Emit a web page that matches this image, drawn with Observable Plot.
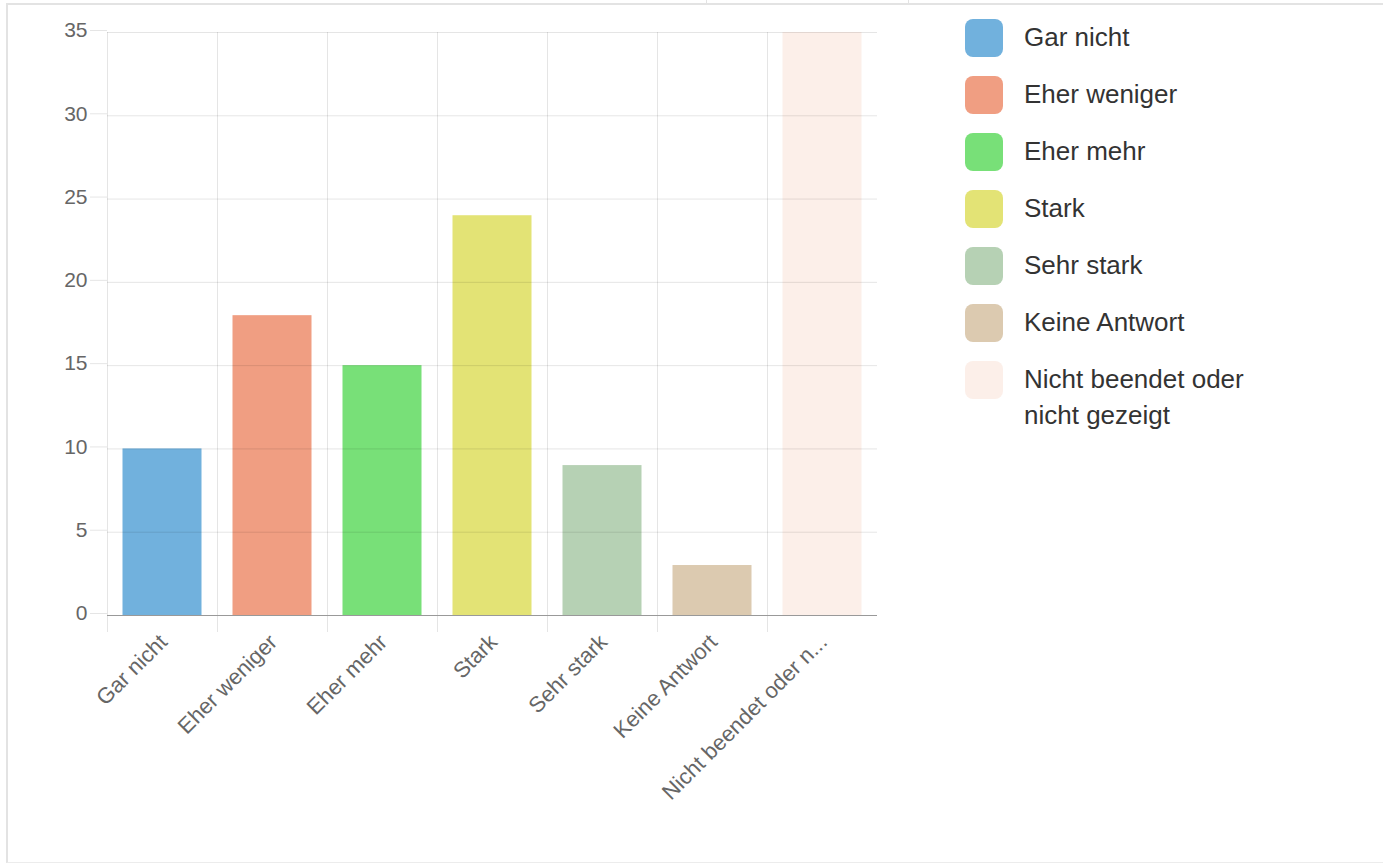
<!DOCTYPE html>
<html>
<head>
<meta charset="utf-8">
<script src="https://cdn.jsdelivr.net/npm/d3@7"></script>
<script src="https://cdn.jsdelivr.net/npm/@observablehq/plot@0.6"></script>
<style>
  html, body { margin: 0; padding: 0; background: #fff; }
  body { width: 1383px; height: 865px; position: relative; overflow: hidden; font-family: "Liberation Sans", Arial, sans-serif; }
  #frame { position: absolute; left: 6px; top: 3px; width: 1400px; height: 860px; border-left: 2px solid #e3e3e3; border-top: 2px solid #e3e3e3; border-bottom: 1px solid #ececec; box-sizing: border-box; }
  .vtick { position: absolute; top: 0; width: 1px; height: 4px; background: #e3e3e3; }
  #chart { position: absolute; left: 0; top: 0; }
  #legend { position: absolute; left: 965px; top: 19px; }
  .row { display: flex; align-items: flex-start; height: 57px; }
  .sw { width: 38px; height: 38px; border-radius: 8px; flex: none; }
  .lab { margin-left: 21px; font-size: 26px; line-height: 36px; color: #333; max-width: 250px; margin-top: 0px; }
</style>
</head>
<body>
<div id="frame"></div>
<div class="vtick" style="left:706px"></div>
<div class="vtick" style="left:908px"></div>
<div id="chart"></div>
<div id="legend"></div>
<script>
const categories = ["Gar nicht", "Eher weniger", "Eher mehr", "Stark", "Sehr stark", "Keine Antwort", "Nicht beendet oder nicht gezeigt"];
const xTickLabels = ["Gar nicht", "Eher weniger", "Eher mehr", "Stark", "Sehr stark", "Keine Antwort", "Nicht beendet oder n..."];
const values = [10, 18, 15, 24, 9, 3, 35];
const colors = ["#71b1dd", "#f09e82", "#78e078", "#e3e375", "#b6d1b4", "#dccab0", "#fcefe9"];
const yTicks = [0, 5, 10, 15, 20, 25, 30, 35];
const bandEdges = [0, 1, 2, 3, 4, 5, 6];

const data = categories.map((c, i) => ({category: c, index: i, value: values[i], label: xTickLabels[i]}));

const chart = Plot.plot({
  width: 900,
  height: 860,
  marginLeft: 107,
  marginTop: 32,
  marginRight: 23,
  marginBottom: 245,
  style: {fontFamily: "Liberation Sans, Arial, sans-serif", fontSize: "21px", color: "#666", background: "transparent", overflow: "visible"},
  x: {domain: [0, categories.length], axis: null},
  y: {domain: [0, 35], axis: null},
  color: {domain: categories, range: colors},
  marks: [
    Plot.rectY(data, {x1: "index", x2: d => d.index + 1, y: "value", fill: "category", insetLeft: 15.5, insetRight: 15.5}),
    Plot.gridY(yTicks, {stroke: "#000", strokeOpacity: 0.1}),
    Plot.gridX(bandEdges, {stroke: "#000", strokeOpacity: 0.1}),
    Plot.axisX({ticks: bandEdges, tickSize: 17, tickFormat: () => "", stroke: "#000", strokeOpacity: 0.1, label: null}),
    Plot.axisY({ticks: yTicks, tickSize: 17, tickPadding: 3, stroke: "#000", strokeOpacity: 0.1, fill: "#666", fontSize: 21, dy: -2, label: null}),
    Plot.ruleY([0], {stroke: "#999", strokeWidth: 1.2}),
    Plot.text(data, {x: d => d.index + 0.5, y: 0, text: "label", rotate: -45, textAnchor: "end", lineAnchor: "middle", dx: 1, dy: 23, fontSize: 22, fill: "#666"})
  ]
});
document.getElementById("chart").appendChild(chart);

const legend = document.getElementById("legend");
categories.forEach((c, i) => {
  const row = document.createElement("div");
  row.className = "row";
  const sw = document.createElement("div");
  sw.className = "sw";
  sw.style.background = colors[i];
  const lab = document.createElement("div");
  lab.className = "lab";
  lab.textContent = c;
  row.appendChild(sw);
  row.appendChild(lab);
  legend.appendChild(row);
});
</script>
</body>
</html>
